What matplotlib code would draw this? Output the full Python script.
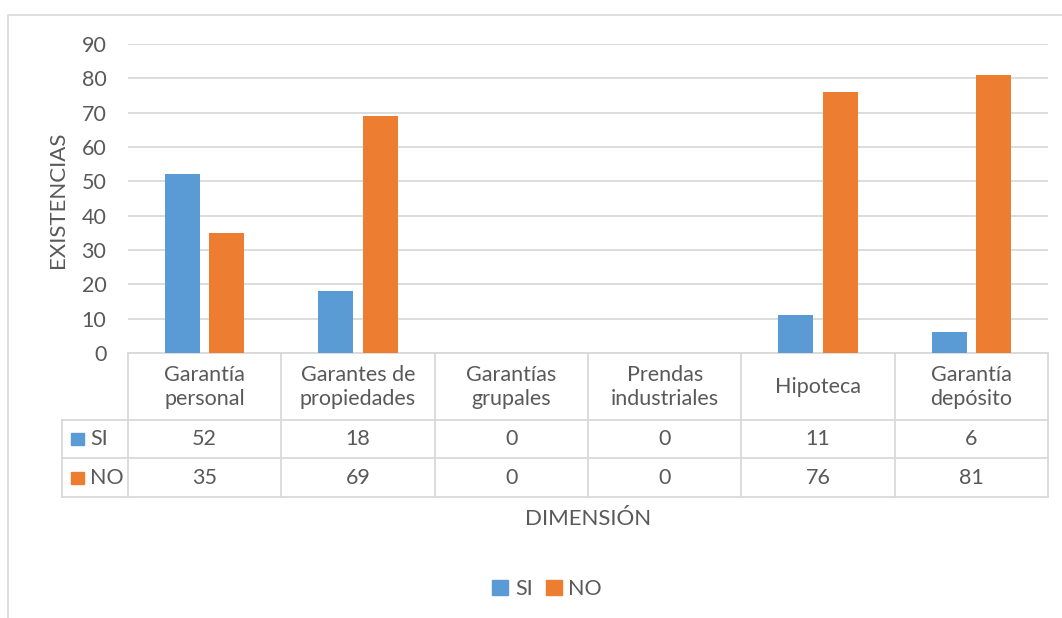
import matplotlib.pyplot as plt
from matplotlib.patches import Rectangle
from matplotlib.transforms import blended_transform_factory

categorias = ['Garantía\npersonal', 'Garantes de\npropiedades', 'Garantías\ngrupales',
              'Prendas\nindustriales', 'Hipoteca', 'Garantía\ndepósito']
si = [52, 18, 0, 0, 11, 6]
no = [35, 69, 0, 0, 76, 81]
series = ['SI', 'NO']
colores = ['#5B9BD5', '#ED7D31']
ticks_y = [0, 10, 20, 30, 40, 50, 60, 70, 80, 90]

W, H = 1062, 618
gris = '#595959'
linea = '#D9D9D9'
fs = 15.5

plt.rcParams['font.family'] = ['Lato', 'DejaVu Sans']
fig = plt.figure(figsize=(W / 100, H / 100), dpi=100)

# borde exterior del gráfico
fig.patches.append(Rectangle((8 / W, -0.1), 1.2, 1 - 15 / H + 0.1, transform=fig.transFigure,
                             fill=False, edgecolor=linea, lw=1.2))

ax = fig.add_axes([128 / W, 1 - 353 / H, 920 / W, 309 / H])
x = list(range(len(categorias)))
ancho = 0.228
ax.bar([i - 0.144 for i in x], si, width=ancho, color=colores[0], zorder=3)
ax.bar([i + 0.144 for i in x], no, width=ancho, color=colores[1], zorder=3)

ax.set_xlim(-0.5, len(categorias) - 0.5)
ax.set_ylim(0, 90)
ax.set_yticks(ticks_y)
ax.yaxis.grid(True, color=linea, lw=1.3, zorder=0)
ax.set_axisbelow(True)
for s in ['top', 'right', 'left']:
    ax.spines[s].set_visible(False)
ax.spines['bottom'].set_color(linea)
ax.spines['bottom'].set_linewidth(1.3)
ax.tick_params(axis='y', length=0, labelsize=fs, labelcolor=gris, pad=15.5)
ax.tick_params(axis='x', length=0, labelbottom=False)
fig.text(58 / W, 1 - 200 / H, 'EXISTENCIAS', rotation=90, ha='center', va='center',
         fontsize=16, color=gris)

# tabla de datos bajo el eje
tr = blended_transform_factory(ax.transData, ax.transAxes)
def fy(p):
    return (353 - p) / 309

izq = -0.5 - 66 / (920 / 6)
y_fil = [fy(420), fy(458), fy(497)]
for yy in y_fil:
    ax.plot([izq, 5.5], [yy, yy], transform=tr, color=linea, lw=1.3, clip_on=False)
for b in range(len(categorias) + 1):
    ax.plot([b - 0.5, b - 0.5], [0, y_fil[-1]], transform=tr, color=linea, lw=1.3, clip_on=False)
ax.plot([izq, izq], [y_fil[0], y_fil[-1]], transform=tr, color=linea, lw=1.3, clip_on=False)

for i, c in enumerate(categorias):
    ax.text(i, fy(387), c, transform=tr, ha='center', va='center', fontsize=fs,
            color=gris, linespacing=1.2)
    ax.text(i, fy(439), str(si[i]), transform=tr, ha='center', va='center', fontsize=fs, color=gris)
    ax.text(i, fy(478), str(no[i]), transform=tr, ha='center', va='center', fontsize=fs, color=gris)

for nombre, col, yp in zip(series, colores, [439, 478]):
    fig.patches.append(Rectangle((71 / W, 1 - (yp + 6) / H), 13 / W, 12 / H,
                                 transform=fig.transFigure, color=col))
    fig.text(90 / W, 1 - yp / H, nombre, ha='left', va='center', fontsize=fs, color=gris)

fig.text(588 / W, 1 - 519 / H, 'DIMENSIÓN', ha='center', va='center', fontsize=16, color=gris)

# leyenda
handles = [Rectangle((0, 0), 1, 1, color=c) for c in colores]
fig.legend(handles, series, loc='center', bbox_to_anchor=(547 / W, 1 - 589 / H), ncol=2,
           frameon=False, fontsize=fs, labelcolor=gris, handlelength=0.75, handleheight=0.75,
           handletextpad=0.3, columnspacing=0.6, borderpad=0.2)

fig.savefig('out.png', dpi=100)
